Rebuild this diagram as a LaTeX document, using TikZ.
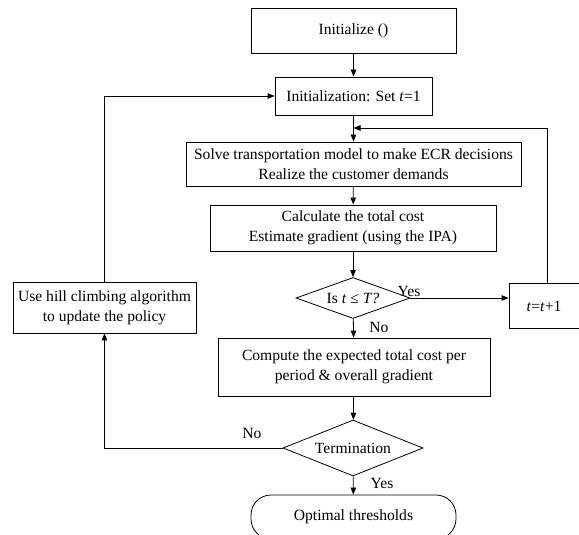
\documentclass[tikz,border=0pt]{standalone}
\usepackage{fontspec}
\setmainfont{Liberation Serif}
\usetikzlibrary{shapes.geometric,arrows.meta}
\newcommand\fsz{\fontsize{15.6}{20}\selectfont}
\begin{document}
\begin{tikzpicture}[x=1pt,y=-1pt,
  box/.style={draw,line width=0.8pt,inner sep=0pt,align=center,font=\fsz},
  dec/.style={draw,line width=0.8pt,shape=diamond,inner sep=0pt,align=center,font=\fsz},
  lbl/.style={inner sep=0pt,font=\fsz},
  conn/.style={line width=0.8pt,-{Triangle[length=7pt,width=5.5pt]}},
  plain/.style={line width=0.8pt}]
\clip (0,0) rectangle (579,535);
\fill[white] (0,0) rectangle (579,535);
\node[box,minimum width=205pt,minimum height=45pt] (init) at (353.5,30.5) {Initialize ()};
\node[box,minimum width=157pt,minimum height=38pt] (setT) at (353.5,96) {Initialization: Set \textit{t}=1};
\node[box,minimum width=335pt,minimum height=44pt] (solve) at (353.5,164) {Solve transportation model to make ECR decisions\\Realize the customer demands};
\node[box,minimum width=286pt,minimum height=46pt] (calc) at (353,228) {Calculate the total cost\\Estimate gradient (using the IPA)};
\node[dec,aspect=2.8,minimum width=114pt,minimum height=41pt] (dec1) at (353,298) {Is \textit{t} ≤ \textit{T?}};
\node[box,minimum width=70pt,minimum height=45pt] (tbox) at (544,306) {\textit{t}=\textit{t}+1};
\node[box,minimum width=272pt,minimum height=58pt] (comp) at (354,367) {Compute the expected total cost per\\period \& overall gradient};
\node[dec,aspect=2.5,minimum width=140pt,minimum height=56pt] (term) at (353,448) {Termination};
\node[box,rounded corners=20pt,minimum width=205pt,minimum height=44pt] (opt) at (353.5,517) {Optimal thresholds};
\node[box,minimum width=183pt,minimum height=51pt] (hill) at (104.5,307.5) {Use hill climbing algorithm\\to update the policy};
\coordinate (fb) at (353.5,128);
\coordinate (tl) at (547,128);
\coordinate (tn) at (547,283.5);
\coordinate (hl) at (104.5,448);
\coordinate (ht) at (104.5,96);
\draw[conn] (init) -- (setT);
\draw[conn] (setT) -- (solve);
\draw[conn] (tn) -- (tl) -- (fb);
\draw[conn] (solve) -- (calc);
\draw[conn] (calc) -- (dec1);
\draw[conn] (dec1.east) -- (dec1.east -| tbox.west);
\draw[conn] (dec1) -- (comp);
\draw[conn] (comp) -- (term);
\draw[conn] (term) -- (opt);
\draw[conn] (term.west) -- (hl) -- (hill.south);
\draw[conn] (hill.north) -- (ht) -- (setT.west);
\node[lbl] (yes1) at (409,291) {Yes};
\node[lbl] (no1) at (379,327) {No};
\node[lbl] (no2) at (252,433) {No};
\node[lbl] (yes2) at (382,483) {Yes};
\end{tikzpicture}
\end{document}
